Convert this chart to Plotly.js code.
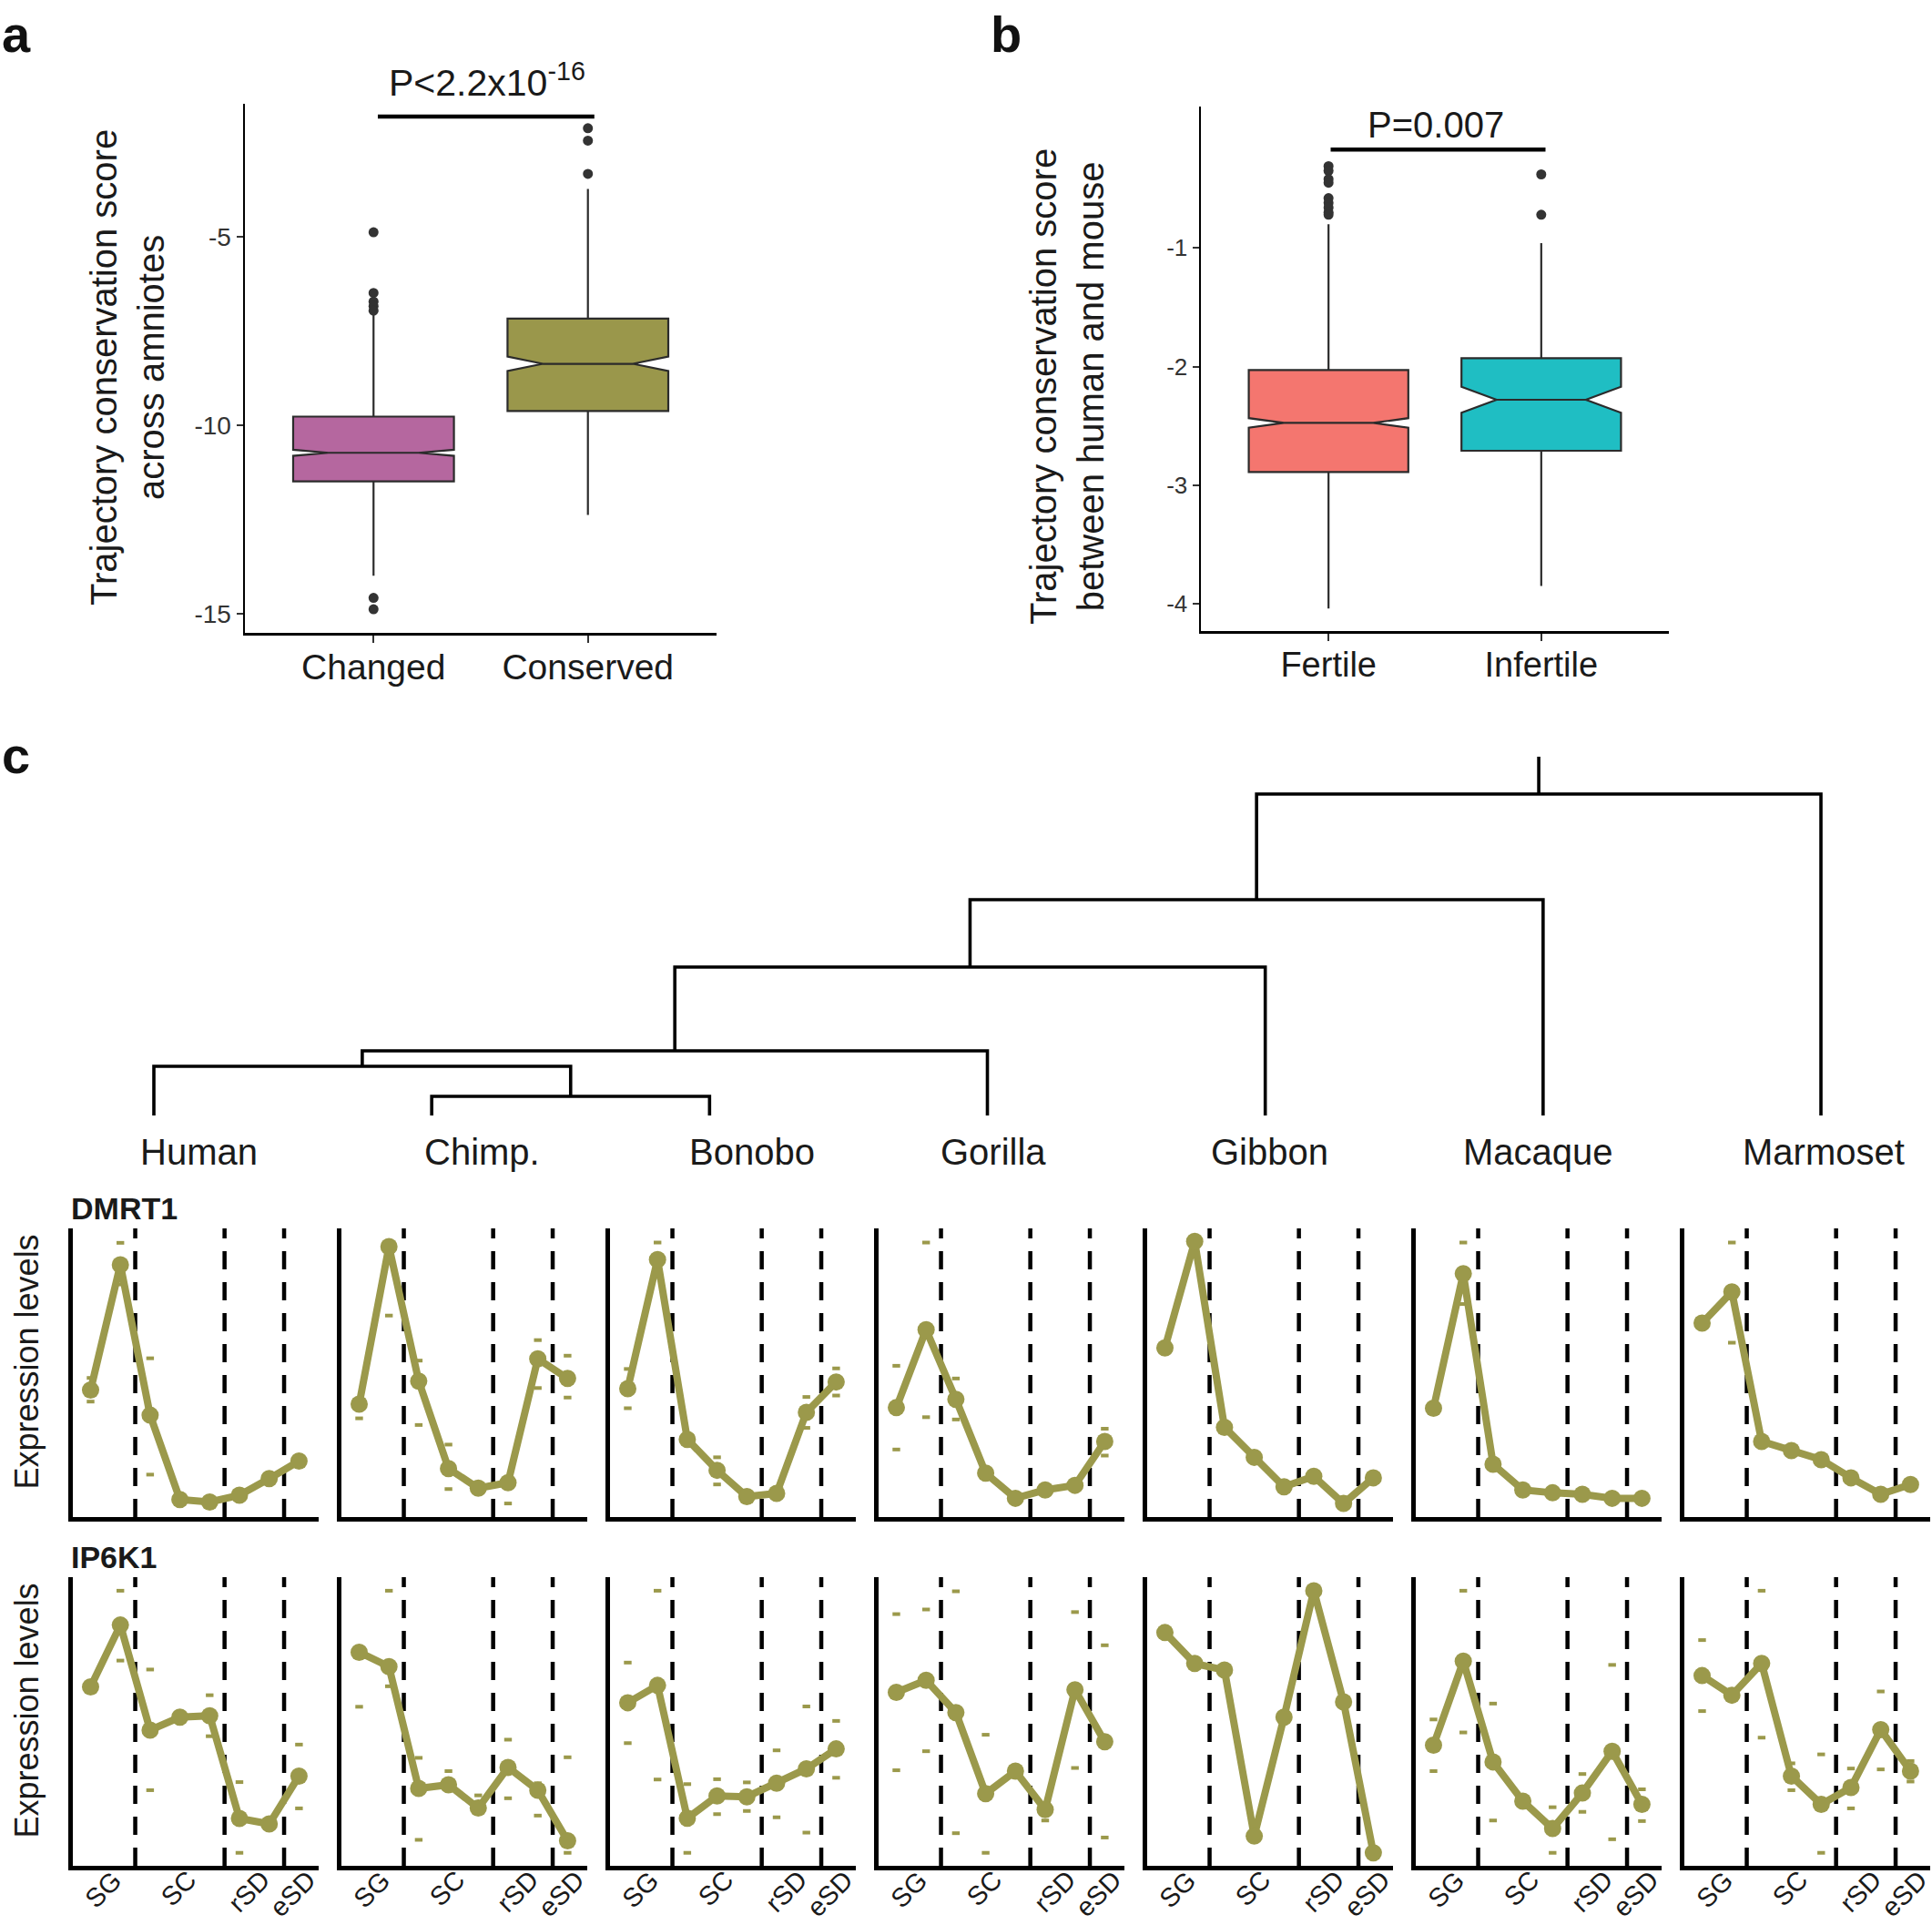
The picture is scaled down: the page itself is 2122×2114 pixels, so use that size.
<!DOCTYPE html>
<html><head><meta charset="utf-8">
<script src="https://cdn.plot.ly/plotly-3.0.1.min.js"></script>
<style>html,body{margin:0;padding:0;background:#fff}</style>
</head><body><div id="chart" style="width:2122px;height:2114px"></div>
<script>
// ---------------- DATA ----------------
// Panel a
const groupsA = ['Changed', 'Conserved'];
const q1A = [-11.49, -9.62];
const medianA = [-10.73, -8.37];
const q3A = [-9.77, -7.17];
const lowerA = [-13.99, -12.38];
const upperA = [-6.93, -3.73];
const notchA = [0.08, 0.19];
const outliersChanged = [-4.88, -6.49, -6.72, -6.84, -6.96, -14.58, -14.88];
const outliersConserved = [-2.12, -2.45, -3.33];
const yTicksA = [-15, -10, -5];
const yTickTextA = ['-15', '-10', '-5'];

// Panel b
const groupsB = ['Fertile', 'Infertile'];
const q1B = [-2.89, -2.71];
const medianB = [-2.475, -2.28];
const q3B = [-2.03, -1.93];
const lowerB = [-4.04, -3.85];
const upperB = [-0.80, -0.96];
const notchB = [0.04, 0.11];
const outliersFertile = [-0.31, -0.35, -0.42, -0.45, -0.58, -0.62, -0.66, -0.70, -0.72];
const outliersInfertile = [-0.38, -0.72];
const yTicksB = [-4, -3, -2, -1];
const yTickTextB = ['-4', '-3', '-2', '-1'];

// Panel c
const species = ['Human', 'Chimp.', 'Bonobo', 'Gorilla', 'Gibbon', 'Macaque', 'Marmoset'];
const genes = ['DMRT1', 'IP6K1'];
const stageIdx = [1, 2, 3, 4, 5, 6, 7, 8];
const stageTickVals = [1.5, 4, 6.5, 8];
const stageTickText = ['SG', 'SC', 'rSD', 'eSD'];
const stageBoundaries = [2.5, 5.5, 7.5];

// tree: [childA, childB, merge height]; children are leaf indices or 'n'+merge index
const treeMerges = [
  [1, 2, 21],
  [0, 'n0', 54],
  ['n1', 3, 71],
  ['n2', 4, 163],
  ['n3', 5, 237],
  ['n4', 6, 353]
];
const rootStemHeight = 394;

const dmrt1Mean = [
  [4.40, 8.74, 3.53, 0.61, 0.52, 0.76, 1.33, 1.94],
  [3.91, 9.37, 4.71, 1.68, 1.00, 1.19, 5.48, 4.80],
  [4.45, 8.92, 2.69, 1.62, 0.71, 0.82, 3.63, 4.68],
  [3.79, 6.49, 4.08, 1.52, 0.65, 0.94, 1.10, 2.62],
  [5.86, 9.55, 3.11, 2.07, 1.05, 1.41, 0.47, 1.36],
  [3.77, 8.43, 1.83, 0.94, 0.84, 0.79, 0.65, 0.65],
  [6.72, 7.80, 2.62, 2.30, 1.99, 1.36, 0.79, 1.13]
];
const dmrt1RepHi = [
  [4.82, 9.50, 5.50, null, null, null, null, null],
  [null, null, 5.42, 2.51, null, null, 6.13, 5.59],
  [5.13, 9.51, null, 2.07, null, null, 4.16, 5.15],
  [5.24, 9.51, 4.80, null, null, null, null, 3.06],
  [null, null, null, null, null, null, null, null],
  [null, 9.51, null, null, null, null, null, null],
  [null, 9.51, null, null, null, null, null, null]
];
const dmrt1RepLo = [
  [4.00, 8.06, 1.47, null, null, null, null, null],
  [3.42, 6.98, 3.19, 0.97, null, 0.47, 4.47, 4.14],
  [3.77, null, null, 1.13, null, null, 3.09, 4.21],
  [2.34, 3.46, 3.38, null, null, null, null, 2.13],
  [null, null, null, null, null, null, null, null],
  [null, 7.38, null, null, null, null, null, null],
  [null, 6.04, null, null, null, null, null, null]
];
const ip6k1Mean = [
  [6.20, 8.34, 4.70, 5.15, 5.20, 1.64, 1.45, 3.11],
  [7.40, 6.90, 2.68, 2.81, 2.00, 3.41, 2.62, 0.87],
  [5.65, 6.25, 1.65, 2.42, 2.39, 2.86, 3.36, 4.05],
  [6.01, 6.43, 5.31, 2.50, 3.28, 1.95, 6.10, 4.30],
  [8.08, 7.01, 6.78, 1.03, 5.15, 9.53, 5.68, 0.45],
  [4.18, 7.09, 3.60, 2.24, 1.29, 2.52, 3.97, 2.13],
  [6.59, 5.91, 7.01, 3.11, 2.13, 2.71, 4.72, 3.28]
];
const ip6k1RepHi = [
  [null, 9.53, 6.80, null, 5.91, 2.90, null, 4.20],
  [null, 9.53, 3.74, 3.28, 2.44, 4.37, 2.86, 3.76],
  [7.04, 9.53, 2.83, 3.00, 2.89, 4.00, 5.52, 5.02],
  [8.72, 8.88, 9.51, 4.54, null, null, 8.79, 7.64],
  [null, null, null, null, null, null, null, null],
  [5.07, 9.53, 5.62, null, 2.03, 3.18, 6.96, 2.65],
  [7.82, null, 9.53, 3.55, 3.86, 3.37, 6.04, 3.63]
];
const ip6k1RepLo = [
  [null, 7.11, 2.62, null, 4.49, 0.45, null, 1.99],
  [5.51, 6.22, 0.90, null, null, 2.34, 1.74, 0.45],
  [4.25, 2.99, 0.45, 1.79, 1.90, 1.68, 1.15, 3.05],
  [3.31, 3.97, 1.13, 0.45, null, 1.57, 3.39, 0.98],
  [null, null, null, null, null, null, null, null],
  [3.28, 4.62, 1.57, null, 0.45, 1.87, 0.92, 1.55],
  [5.36, null, 4.44, 2.62, 0.45, 1.99, 3.34, 2.92]
];

// ---------------- STYLE / LAYOUT HELPERS ----------------
const W = 2122, H = 2114;
const fx = p => p / W;
const fy = p => 1 - p / H;
const FONT = 'Liberation Sans, Arial, Helvetica, sans-serif';
const colA = ['#B5679F', '#9A974B'];
const colB = ['#F4766F', '#1FBEC3'];
const olive = '#9B994B';
const boxLine = '#2b2b2b';

const traces = [];
const shapes = [];
const annotations = [];
const layout = {
  width: W, height: H, autosize: false,
  margin: {l: 0, r: 0, t: 0, b: 0, pad: 0},
  paper_bgcolor: '#fff', plot_bgcolor: 'rgba(0,0,0,0)',
  showlegend: false, boxmode: 'overlay',
  font: {family: FONT, color: '#1a1a1a'},
  shapes: shapes, annotations: annotations
};

function boxTraces(groups, q1, med, q3, lo, up, notch, cols, xa, ya) {
  groups.forEach((g, i) => {
    traces.push({
      type: 'box', x: [g], q1: [q1[i]], median: [med[i]], q3: [q3[i]],
      lowerfence: [lo[i]], upperfence: [up[i]], notchspan: [notch[i]],
      notched: true, notchwidth: 0.22, width: 0.75, whiskerwidth: 0,
      boxpoints: false, fillcolor: cols[i], line: {color: boxLine, width: 2.2},
      xaxis: xa, yaxis: ya, hoverinfo: 'skip'
    });
  });
}
function outlierTrace(group, vals, xa, ya) {
  traces.push({
    type: 'scatter', mode: 'markers', x: vals.map(() => group), y: vals,
    marker: {size: 11, color: '#333'}, xaxis: xa, yaxis: ya, hoverinfo: 'skip'
  });
}
function boxAxes(xkey, ykey, xDom, yDom, xAnchor, yAnchor, yRange, tv, tt, tickSize, yTickSize, xStandoff) {
  layout[xkey] = {
    domain: xDom, type: 'category', range: [-0.6, 1.6], anchor: yAnchor,
    showline: true, linecolor: '#000', linewidth: 2.5, ticks: 'outside', ticklen: 8,
    tickwidth: 2, tickcolor: '#333', tickfont: {size: tickSize, color: '#1a1a1a', family: FONT},
    ticklabelstandoff: xStandoff,
    showgrid: false, zeroline: false, fixedrange: true
  };
  layout[ykey] = {
    domain: yDom, range: yRange, anchor: xAnchor,
    showline: true, linecolor: '#000', linewidth: 2.5, ticks: 'outside', ticklen: 7,
    tickwidth: 2, tickcolor: '#333', tickvals: tv, ticktext: tt,
    tickfont: {size: yTickSize, color: '#333', family: FONT},
    showgrid: false, zeroline: false, fixedrange: true
  };
}

// ---------------- PANEL a ----------------
boxTraces(groupsA, q1A, medianA, q3A, lowerA, upperA, notchA, colA, 'x', 'y');
outlierTrace(groupsA[0], outliersChanged, 'x', 'y');
outlierTrace(groupsA[1], outliersConserved, 'x', 'y');
boxAxes('xaxis', 'yaxis', [fx(269), fx(787)], [fy(695), fy(114)], 'x', 'y',
  [-15.507, -1.473], yTicksA, yTickTextA, 39, 28, -6);
shapes.push({type: 'line', xref: 'x', yref: 'y', x0: 0.02, x1: 1.03, y0: -1.81, y1: -1.81,
  line: {color: '#000', width: 4.5}});
annotations.push({xref: 'paper', yref: 'paper', x: fx(535), y: fy(88), xanchor: 'center', yanchor: 'middle',
  text: 'P&lt;2.2x10<sup>-16</sup>', showarrow: false, font: {size: 41, family: FONT, color: '#1a1a1a'}});
annotations.push({xref: 'paper', yref: 'paper', x: fx(140), y: fy(404), xanchor: 'center', yanchor: 'middle',
  textangle: -90, text: 'Trajectory conservation score<br>across amniotes', showarrow: false,
  font: {size: 40, family: FONT, color: '#1a1a1a'}});
annotations.push({xref: 'paper', yref: 'paper', x: fx(0), y: fy(4), xanchor: 'left', yanchor: 'top',
  text: '<b>a</b>', showarrow: false, font: {size: 56, family: FONT, color: '#111'}});

// ---------------- PANEL b ----------------
boxTraces(groupsB, q1B, medianB, q3B, lowerB, upperB, notchB, colB, 'x2', 'y2');
outlierTrace(groupsB[0], outliersFertile, 'x2', 'y2');
outlierTrace(groupsB[1], outliersInfertile, 'x2', 'y2');
boxAxes('xaxis2', 'yaxis2', [fx(1319), fx(1833)], [fy(693), fy(117)], 'x2', 'y2',
  [-4.23, 0.192], yTicksB, yTickTextB, 38, 26, -6);
shapes.push({type: 'line', xref: 'x2', yref: 'y2', x0: 0.01, x1: 1.02, y0: -0.17, y1: -0.17,
  line: {color: '#000', width: 4.5}});
annotations.push({xref: 'paper', yref: 'paper', x: fx(1577), y: fy(137), xanchor: 'center', yanchor: 'middle',
  text: 'P=0.007', showarrow: false, font: {size: 40, family: FONT, color: '#1a1a1a'}});
annotations.push({xref: 'paper', yref: 'paper', x: fx(1172), y: fy(425), xanchor: 'center', yanchor: 'middle',
  textangle: -90, text: 'Trajectory conservation score<br>between human and mouse', showarrow: false,
  font: {size: 40, family: FONT, color: '#1a1a1a'}});
annotations.push({xref: 'paper', yref: 'paper', x: fx(1086), y: fy(4), xanchor: 'left', yanchor: 'top',
  text: '<b>b</b>', showarrow: false, font: {size: 56, family: FONT, color: '#111'}});

// ---------------- PANEL c : tree ----------------
const nodeX = [], nodeH = [];
const childX = c => typeof c === 'number' ? c : nodeX[+c.slice(1)];
const childH = c => typeof c === 'number' ? 0 : nodeH[+c.slice(1)];
const treeX = [], treeY = [];
treeMerges.forEach((m, i) => {
  const [a, b, h] = m;
  const xa = childX(a), xb = childX(b);
  treeX.push(xa, xa, xb, xb, null);
  treeY.push(childH(a), h, h, childH(b), null);
  nodeX[i] = (xa + xb) / 2; nodeH[i] = h;
});
const rootI = treeMerges.length - 1;
treeX.push(nodeX[rootI], nodeX[rootI]);
treeY.push(nodeH[rootI], rootStemHeight);
traces.push({type: 'scatter', mode: 'lines', x: treeX, y: treeY, xaxis: 'x3', yaxis: 'y3',
  line: {color: '#000', width: 3.6}, hoverinfo: 'skip'});
const leafStart = 169, leafStep = 305.17;
layout.xaxis3 = {domain: [0, 1], range: [-leafStart / leafStep, (W - leafStart) / leafStep],
  visible: false, fixedrange: true, anchor: 'y3'};
layout.yaxis3 = {domain: [fy(1230), fy(820)], range: [-5, 405], visible: false, fixedrange: true, anchor: 'x3'};
const speciesLabelX = [218, 529, 826, 1091, 1394, 1689, 2003];
species.forEach((s, i) => {
  annotations.push({xref: 'paper', yref: 'paper', x: fx(speciesLabelX[i]), y: fy(1265),
    xanchor: 'center', yanchor: 'middle', text: s, showarrow: false,
    font: {size: 40, family: FONT, color: '#1a1a1a'}});
});
annotations.push({xref: 'paper', yref: 'paper', x: fx(0), y: fy(796), xanchor: 'left', yanchor: 'top',
  text: '<b>c</b>', showarrow: false, font: {size: 56, family: FONT, color: '#111'}});

// ---------------- PANEL c : expression panels ----------------
const panelLeft0 = 80, panelStep = 295, panelW = 270;
const rowTop = [1349, 1732], rowBottom = [1666, 2049];
const geneMeans = [dmrt1Mean, ip6k1Mean];
const geneRepHi = [dmrt1RepHi, ip6k1RepHi];
const geneRepLo = [dmrt1RepLo, ip6k1RepLo];
const xLeftVal = 0.404, pxPerStage = 32.7;

genes.forEach((g, gi) => {
  species.forEach((s, si) => {
    const k = 4 + gi * species.length + si;
    const xa = 'x' + k, ya = 'y' + k;
    const L = panelLeft0 + si * panelStep;
    // replicate marks
    traces.push({type: 'scatter', mode: 'markers',
      x: stageIdx.concat(stageIdx), y: geneRepHi[gi][si].concat(geneRepLo[gi][si]),
      marker: {symbol: 'line-ew', size: 6, line: {color: olive, width: 4}},
      xaxis: xa, yaxis: ya, hoverinfo: 'skip'});
    // mean trajectory
    traces.push({type: 'scatter', mode: 'lines+markers', x: stageIdx, y: geneMeans[gi][si],
      line: {color: olive, width: 8}, marker: {color: olive, size: 19},
      xaxis: xa, yaxis: ya, hoverinfo: 'skip'});
    layout['xaxis' + k] = {
      domain: [fx(L), fx(L + panelW)], range: [xLeftVal, xLeftVal + panelW / pxPerStage],
      anchor: ya, showline: true, linecolor: '#000', linewidth: 5, ticks: '',
      showgrid: false, zeroline: false, fixedrange: true, showticklabels: false
    };
    layout['yaxis' + k] = {
      domain: [fy(rowBottom[gi]), fy(rowTop[gi])], range: [0, 10], anchor: xa,
      showline: true, linecolor: '#000', linewidth: 5, ticks: '', showticklabels: false,
      showgrid: false, zeroline: false, fixedrange: true
    };
    stageBoundaries.forEach(b => {
      shapes.push({type: 'line', layer: 'below', xref: xa, yref: ya + ' domain',
        x0: b, x1: b, y0: 0, y1: 1, line: {color: '#000', width: 4.5, dash: '20px,14px'}});
    });
    // stage labels (rotated) under the bottom row
    if (gi === genes.length - 1) {
      stageTickVals.forEach((tv, ti) => {
        annotations.push({xref: xa, yref: 'paper', x: tv, y: fy(2047), xshift: 25,
          xanchor: 'right', yanchor: 'top', textangle: -45, text: stageTickText[ti],
          showarrow: false, borderpad: 0, font: {size: 29, family: FONT, color: '#1a1a1a'}});
      });
    }
  });
  annotations.push({xref: 'paper', yref: 'paper', x: fx(76), y: fy(rowTop[gi] - 22),
    xanchor: 'left', yanchor: 'middle', text: '<b>' + g + '</b>', showarrow: false,
    font: {size: 34, family: FONT, color: '#1a1a1a'}});
  annotations.push({xref: 'paper', yref: 'paper', x: fx(29), y: fy((rowTop[gi] + rowBottom[gi]) / 2 - 12),
    xanchor: 'center', yanchor: 'middle', textangle: -90, text: 'Expression levels', showarrow: false,
    font: {size: 36, family: FONT, color: '#1a1a1a'}});
});

Plotly.newPlot('chart', traces, layout, {staticPlot: true, displayModeBar: false});
</script>
</body></html>
